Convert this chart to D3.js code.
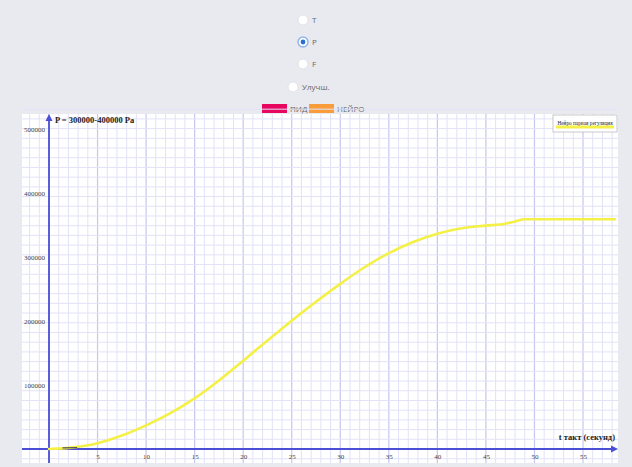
<!DOCTYPE html>
<html>
  <head>
    <meta charset="utf-8">
    <title>P</title>
    <script src="https://cdn.jsdelivr.net/npm/d3@7"></script>
    <style>
      html, body { margin: 0; padding: 0; background: #e8eaf0; }
      svg { display: block; }
      .ctl { font-family: "Open Sans", "DejaVu Sans", sans-serif; font-size: 8px; fill: #666; }
      .tick text { font-family: "Liberation Serif", "DejaVu Serif", serif; font-size: 7px; fill: #444; }
      .axTitle { font-family: "Liberation Serif", "DejaVu Serif", serif; font-size: 8.5px; font-weight: bold; fill: #222; }
    </style>
  </head>
  <body>
    <svg id="chart" width="632" height="467"></svg>
    <script>
      // data
      const timeSec = [0, 2.5, 5, 7.5, 10, 12.5, 15, 17.5, 20, 22.5, 25, 27.5, 30, 32.5, 35, 37.5, 40, 42.5, 45, 47, 48, 49, 52, 55, 58.3];
      const pressure = [0, 2600, 9000, 21000, 37000, 56000, 79000, 107000, 138000, 169500, 200500, 230000, 258000, 284000, 306000, 323500, 336500, 345000, 349000, 352000, 355500, 359000, 359000, 359000, 359000];
      const pidTime = [1.4, 2.9];
      const pidPressure = [1800, 2200];

      const xTicks = [5, 10, 15, 20, 25, 30, 35, 40, 45, 50, 55];
      const yTicks = [100000, 200000, 300000, 400000, 500000];

      const radioLabels = ["T", "P", "F"];
      const selectedRadio = "P";
      const extraRadio = "Улучш.";
      const legendNames = ["ПИД", "НЕЙРО"];
      const legendColors = ["#e8075f", "#f99d3a"];
      const legendHidden = [true, false];
      const seriesName = "Нейро парная регуляция";

      const svg = d3.select("#chart");

      // controls
      const radios = svg.append("g");
      radioLabels.forEach((lab, i) => {
        const cy = 20 + i * 22;
        const on = lab == selectedRadio;
        radios.append("circle")
          .attr("cx", 303).attr("cy", cy).attr("r", 5)
          .attr("fill", "#fff")
          .attr("stroke", on ? "#8fb4f0" : "#dcdde3")
          .attr("stroke-width", on ? 1.5 : 0.8);
        if (on) radios.append("circle")
          .attr("cx", 303).attr("cy", cy).attr("r", 2.4)
          .attr("fill", "#2a6fd6");
        radios.append("text").attr("class", "ctl")
          .attr("x", 312).attr("y", cy + 3).text(lab);
      });
      radios.append("circle")
        .attr("cx", 293).attr("cy", 87).attr("r", 5)
        .attr("fill", "#fff").attr("stroke", "#dcdde3").attr("stroke-width", 0.8);
      radios.append("text").attr("class", "ctl")
        .attr("x", 302).attr("y", 90).text(extraRadio);

      // legend
      const leg = svg.append("g");
      legendNames.forEach((name, i) => {
        const x0 = 262 + i * 47;
        leg.append("rect")
          .attr("x", x0).attr("y", 104).attr("width", 25).attr("height", 9)
          .attr("fill", legendColors[i]);
        const t = leg.append("text").attr("class", "ctl")
          .attr("x", x0 + 28).attr("y", 111.5).attr("font-size", 7)
          .attr("fill", "#999").text(name);
        if (legendHidden[i]) {
          const w = t.node().getComputedTextLength();
          leg.append("line")
            .attr("x1", x0 + 28).attr("x2", x0 + 28 + w)
            .attr("y1", 109).attr("y2", 109)
            .attr("stroke", "#888").attr("stroke-width", 0.8);
        }
      });

      // panel
      const panel = { left: 22, right: 618, top: 114, bottom: 463 };
      svg.append("rect")
        .attr("x", panel.left).attr("y", panel.top)
        .attr("width", panel.right - panel.left).attr("height", panel.bottom - panel.top)
        .attr("fill", "#fff");

      const x = d3.scaleLinear().domain([0, 55]).range([49, 583]);
      const y = d3.scaleLinear().domain([0, 500000]).range([449, 129]);

      // graph paper grid
      const grid = svg.append("g");
      const unit = x(1) - x(0);
      const vLines = d3.range(Math.ceil(x.invert(panel.left)), Math.floor(x.invert(panel.right)) + 1);
      grid.selectAll(".v").data(vLines).enter().append("line")
        .attr("x1", d => x(d)).attr("x2", d => x(d))
        .attr("y1", panel.top).attr("y2", panel.bottom)
        .attr("stroke", d => d % 5 == 0 ? "#c6c6ef" : "#e2e2f8")
        .attr("stroke-width", d => d % 5 == 0 ? 1.2 : 1);
      const hLines = d3.range(Math.floor((panel.top - y(0)) / unit), Math.floor((panel.bottom - y(0)) / unit) + 1);
      grid.selectAll(".h").data(hLines).enter().append("line")
        .attr("x1", panel.left).attr("x2", panel.right)
        .attr("y1", d => y(0) + d * unit).attr("y2", d => y(0) + d * unit)
        .attr("stroke", "#e2e2f8");

      // axes
      const axisColor = "#4b4fd6";
      const xAxis = d3.axisBottom(x).tickValues(xTicks).tickSize(0).tickPadding(5);
      svg.append("g").attr("transform", "translate(0," + y(0) + ")").call(xAxis)
        .call(g => g.select(".domain").remove());
      const yAxis = d3.axisLeft(y).tickValues(yTicks).tickSize(0).tickPadding(4).tickFormat(d3.format("d"));
      svg.append("g").attr("transform", "translate(" + x(0) + ",0)").call(yAxis)
        .call(g => g.select(".domain").remove());

      svg.append("line")
        .attr("x1", panel.left).attr("x2", 613)
        .attr("y1", y(0)).attr("y2", y(0))
        .attr("stroke", axisColor).attr("stroke-width", 1.8);
      svg.append("path")
        .attr("d", `M618,${y(0)} L611,${y(0) - 3.5} L611,${y(0) + 3.5} Z`)
        .attr("fill", axisColor);
      svg.append("line")
        .attr("x1", x(0)).attr("x2", x(0))
        .attr("y1", 119).attr("y2", panel.bottom)
        .attr("stroke", axisColor).attr("stroke-width", 1.8);
      svg.append("path")
        .attr("d", `M${x(0)},114 L${x(0) - 3.5},121 L${x(0) + 3.5},121 Z`)
        .attr("fill", axisColor);

      svg.append("text").attr("class", "axTitle")
        .attr("x", 55).attr("y", 123).text("P = 300000-400000 Pa");
      svg.append("text").attr("class", "axTitle")
        .attr("x", 615).attr("y", 440).attr("text-anchor", "end").text("t такт (секунд)");

      // series
      svg.append("path")
        .attr("d", d3.line().x(d => x(d[0])).y(d => y(d[1])).curve(d3.curveMonotoneX)(timeSec.map((t, i) => [t, pressure[i]])))
        .attr("fill", "none")
        .attr("stroke", "#f4f046")
        .attr("stroke-width", 2.6)
        .attr("stroke-linecap", "round");
      svg.append("path")
        .attr("d", d3.line().x(d => x(d[0])).y(d => y(d[1]))(pidTime.map((t, i) => [t, pidPressure[i]])))
        .attr("fill", "none")
        .attr("stroke", "#555")
        .attr("stroke-width", 1.4);

      // series box
      const box = svg.append("g");
      box.append("rect")
        .attr("x", 553).attr("y", 115).attr("width", 64).attr("height", 17)
        .attr("fill", "#fff").attr("stroke", "#bbb").attr("stroke-width", 0.8);
      box.append("line")
        .attr("x1", 556).attr("x2", 614).attr("y1", 127).attr("y2", 127)
        .attr("stroke", "#f4f046").attr("stroke-width", 3);
      box.append("text")
        .attr("x", 585).attr("y", 125).attr("text-anchor", "middle")
        .attr("font-family", "Liberation Serif, DejaVu Serif, serif")
        .attr("font-size", 5.3).attr("fill", "#222")
        .text(seriesName);
    </script>
  </body>
</html>
